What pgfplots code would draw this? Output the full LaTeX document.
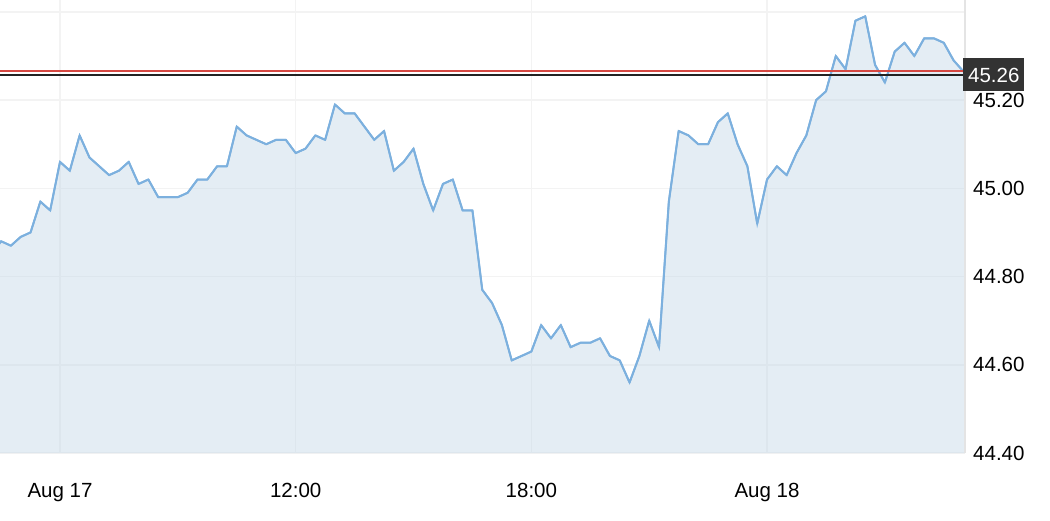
\documentclass[border=0pt]{standalone}
\usepackage{pgfplots}
\pgfplotsset{compat=1.18}
\usepgfplotslibrary{fillbetween}
\usepackage{fontspec}
\setmainfont{Liberation Sans}
\definecolor{linec}{RGB}{124,176,222}
\definecolor{fillc}{RGB}{201,219,233}
\definecolor{gridc}{RGB}{243,243,243}
\definecolor{borderc}{RGB}{228,228,228}
\definecolor{redl}{RGB}{214,72,66}
\definecolor{blackl}{RGB}{34,34,34}
\definecolor{boxc}{RGB}{51,51,51}
\pgfplotstableread{
i v
-7 44.85
-6 44.88
-5 44.87
-4 44.89
-3 44.90
-2 44.97
-1 44.95
0 45.06
1 45.04
2 45.12
3 45.07
4 45.05
5 45.03
6 45.04
7 45.06
8 45.01
9 45.02
10 44.98
11 44.98
12 44.98
13 44.99
14 45.02
15 45.02
16 45.05
17 45.05
18 45.14
19 45.12
20 45.11
21 45.10
22 45.11
23 45.11
24 45.08
25 45.09
26 45.12
27 45.11
28 45.19
29 45.17
30 45.17
31 45.14
32 45.11
33 45.13
34 45.04
35 45.06
36 45.09
37 45.01
38 44.95
39 45.01
40 45.02
41 44.95
42 44.95
43 44.77
44 44.74
45 44.69
46 44.61
47 44.62
48 44.63
49 44.69
50 44.66
51 44.69
52 44.64
53 44.65
54 44.65
55 44.66
56 44.62
57 44.61
58 44.56
59 44.62
60 44.70
61 44.64
62 44.97
63 45.13
64 45.12
65 45.10
66 45.10
67 45.15
68 45.17
69 45.10
70 45.05
71 44.92
72 45.02
73 45.05
74 45.03
75 45.08
76 45.12
77 45.20
78 45.22
79 45.30
80 45.27
81 45.38
82 45.39
83 45.28
84 45.24
85 45.31
86 45.33
87 45.30
88 45.34
89 45.34
90 45.33
91 45.29
92 45.265
}\pricedata
\begin{document}
\fontsize{20}{24}\selectfont
\begin{tikzpicture}
\begin{axis}[
  at={(0,0)}, anchor=south west,
  scale only axis,
  width=965pt, height=453pt,
  xmin=-6.11, xmax=92.16,
  ymin=44.40, ymax=45.427,
  clip mode=individual,
  axis line style={draw=none},
  major tick length=0pt,
  tick style={draw=none},
  xtick={0,24,48,72},
  xticklabels={Aug 17,12:00,18:00,Aug 18},
  ytick={44.4,44.6,44.8,45.0,45.2,45.4},
  yticklabels={44.40,44.60,44.80,45.00,45.20,{}},
  yticklabel pos=right,
  /pgf/number format/assume math mode=true,
  ticklabel style={font=\fontsize{20.5}{24}\selectfont, text=black},
  yticklabel style={anchor=west, inner sep=0pt, xshift=8pt},
  xticklabel style={anchor=base, inner sep=0pt, yshift=-44pt},
  grid=major,
  major grid style={draw=gridc, line width=1.5pt},
  axis on top=false,
]
\addplot[draw=linec, line width=1.8pt, name path=A] table[x=i,y=v]{\pricedata};
\path[name path=B] (axis cs:-8,44.40) -- (axis cs:93,44.40);
\addplot[fill=fillc, fill opacity=0.5, draw=none] fill between[of=A and B];
\addplot[draw=linec, line width=2pt, line join=round] table[x=i,y=v]{\pricedata};
\draw[borderc, line width=1.5pt] (rel axis cs:1,0) -- (rel axis cs:1,1);
\addplot[draw=redl, line width=1.8pt] coordinates {(-8,45.266) (93,45.266)};
\addplot[draw=blackl, line width=1.8pt] coordinates {(-8,45.257) (93,45.257)};
\node[anchor=west, fill=boxc, text=white, inner xsep=5pt, inner ysep=0pt,
      minimum height=33pt, font=\fontsize{20.5}{24}\selectfont]
      at (axis cs:91.95,45.257) {45.26};
\end{axis}
\pgfresetboundingbox
\path[use as bounding box] (0pt,-67pt) rectangle (1050pt,453pt);
\end{tikzpicture}
\end{document}
